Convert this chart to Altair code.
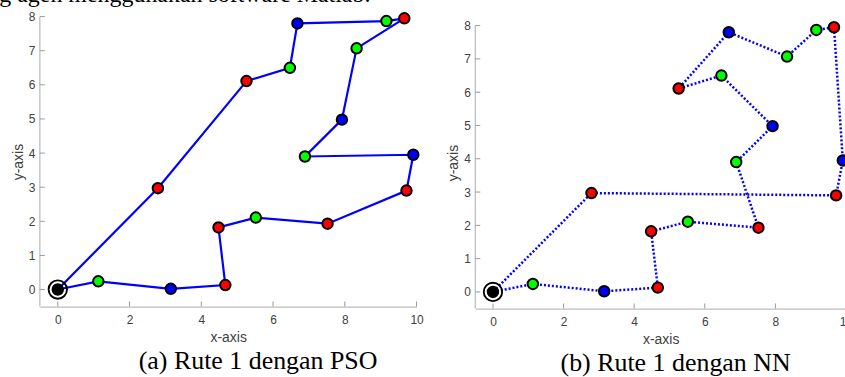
import altair as alt
import pandas as pd

# ---- data ----
# customer coordinates (index 0 = depot)
pt_x = [0.0, 1.13, 3.15, 4.67, 4.48, 5.52, 7.52, 9.72, 9.91, 6.89, 7.92, 8.33, 9.66, 9.16, 6.68, 6.47, 5.26, 2.79]
pt_y = [0.0, 0.24, 0.02, 0.13, 1.82, 2.11, 1.93, 2.90, 3.95, 3.90, 4.98, 7.07, 7.95, 7.87, 7.80, 6.50, 6.11, 2.97]
pt_kind = ["depot", "green", "blue", "red", "red", "green", "red", "red", "blue",
           "green", "blue", "green", "red", "green", "blue", "green", "red", "red"]

# visiting order of each route
route_pso = [0, 17, 16, 15, 14, 13, 12, 11, 10, 9, 8, 7, 6, 5, 4, 3, 2, 1, 0]
route_nn = [0, 1, 2, 3, 4, 5, 6, 9, 10, 15, 16, 14, 11, 13, 12, 8, 7, 17, 0]

x_ticks = [0, 2, 4, 6, 8, 10]
y_ticks = [0, 1, 2, 3, 4, 5, 6, 7, 8]
x_lim = [-0.5, 10]
y_lim = [-0.5, 8]

x_title = "x-axis"
y_title = "y-axis"
caption_a = "(a) Rute 1 dengan PSO"
caption_b = "(b) Rute 1 dengan NN"
top_text = "g agen menggunakan software Matlab."

SANS = "Liberation Sans"
SERIF = "Liberation Serif"
AX = "#bdbdbd"
LAB = "#404040"

points = pd.DataFrame({"x": pt_x, "y": pt_y, "kind": pt_kind})
depot = points[points["kind"] == "depot"]

color_scale = alt.Scale(domain=["depot", "red", "green", "blue"],
                        range=["#000000", "#ff0000", "#00ff00", "#0000ff"])


def route_df(route):
    return pd.DataFrame({"step": list(range(len(route))),
                         "x": [pt_x[i] for i in route],
                         "y": [pt_y[i] for i in route]})


def panel(route, line_kw, y_top, width, height, caption, cap_dx):
    xs = alt.Scale(domain=x_lim, nice=False, zero=False)
    ys = alt.Scale(domain=[y_lim[0], y_top], nice=False, zero=False)
    xaxis = alt.Axis(values=x_ticks, ticks=False, tickSize=0, grid=False,
                     domain=True, domainColor=AX, domainWidth=1.3, labelFlush=False,
                     labelFont=SANS, labelFontSize=12, labelColor=LAB, labelPadding=8,
                     title=x_title, titleFont=SANS, titleFontSize=14,
                     titleFontWeight="normal", titleColor=LAB, titlePadding=5)
    yaxis = alt.Axis(values=y_ticks, ticks=False, tickSize=0, grid=False,
                     domain=False, labelFlush=False,
                     labelFont=SANS, labelFontSize=12, labelColor=LAB, labelPadding=5,
                     title=y_title, titleFont=SANS, titleFontSize=14,
                     titleFontWeight="normal", titleColor=LAB, titlePadding=3)
    X = alt.X("x:Q", scale=xs, axis=xaxis)
    Y = alt.Y("y:Q", scale=ys, axis=yaxis)

    yline_df = pd.DataFrame({"x": [x_lim[0], x_lim[0]], "y": [y_lim[0], y_lim[1]]})
    yline = alt.Chart(yline_df).mark_line(color=AX, strokeWidth=1.3).encode(x=X, y=Y)

    xt_df = pd.DataFrame({"x": x_ticks, "y": [y_lim[0]] * len(x_ticks)})
    xt = alt.Chart(xt_df).mark_tick(orient="vertical", size=5, thickness=1,
                                    color="#9a9a9a", yOffset=-2.5, opacity=1).encode(x=X, y=Y)
    yt_df = pd.DataFrame({"x": [x_lim[0]] * len(y_ticks), "y": y_ticks})
    yt = alt.Chart(yt_df).mark_tick(orient="horizontal", size=5, thickness=1,
                                    color="#9a9a9a", xOffset=2.5, opacity=1).encode(x=X, y=Y)

    line = alt.Chart(route_df(route)).mark_line(color="#0000ff", **line_kw).encode(
        x=X, y=Y, order="step:Q")

    ring = alt.Chart(depot).mark_point(shape="circle", size=340, filled=False,
                                       stroke="black", strokeWidth=1.9, opacity=1).encode(x=X, y=Y)
    dots = alt.Chart(points).mark_circle(size=110, stroke="black", strokeWidth=2,
                                         opacity=1).encode(
        x=X, y=Y, fill=alt.Fill("kind:N", scale=color_scale, legend=None))

    return alt.layer(yline, xt, yt, line, ring, dots).properties(
        width=width, height=height,
        title=alt.TitleParams(caption, orient="bottom", anchor="middle", frame="group",
                              font=SERIF, fontSize=26, fontWeight="normal",
                              color="black", dx=cap_dx, offset=4))


left = panel(route_pso, {"strokeWidth": 2.2}, 8.0, 378, 291, caption_a, 30)
right = panel(route_nn, {"strokeWidth": 2.5, "strokeDash": [2, 2]}, 8.27, 372, 293, caption_b, 15)

chart = alt.hconcat(
    left, right, spacing=59, bounds="flush",
    title=alt.TitleParams(top_text, font=SERIF, fontSize=24, fontWeight="normal",
                          color="black", anchor="start", frame="bounds", dx=-12, offset=2)
).properties(
    padding={"left": -1, "top": -18, "right": -8, "bottom": 0}
).configure_view(strokeWidth=0)

chart.save("out.html", embed_options={"renderer": "svg", "actions": False})
